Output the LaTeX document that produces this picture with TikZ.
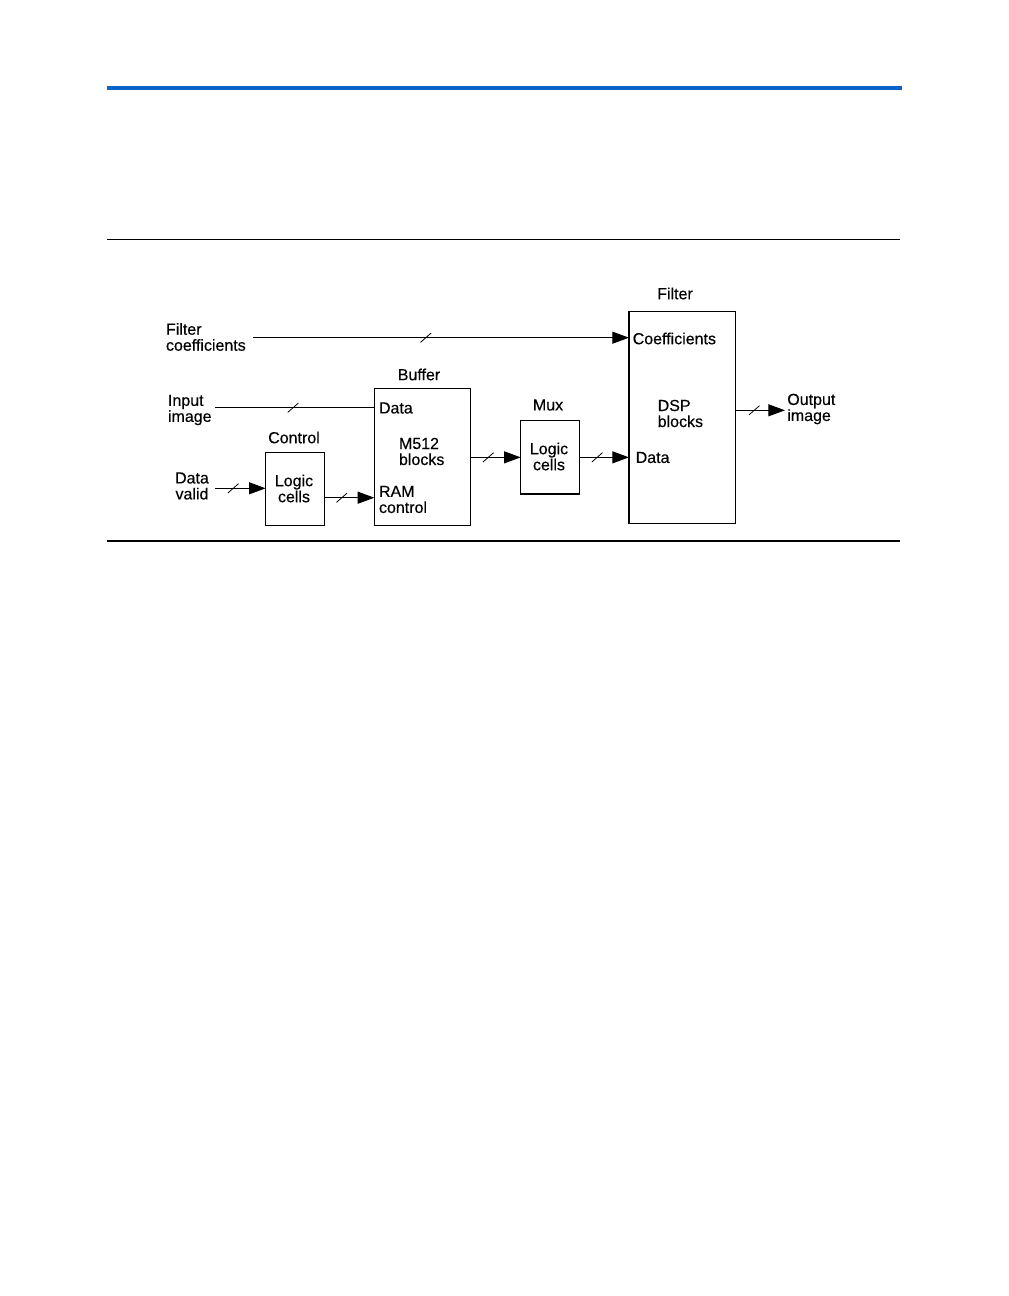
\documentclass[tikz,border=0pt]{standalone}
\usepackage{fontspec}
\setmainfont{Liberation Sans}[UprightFeatures={FakeBold=0.35}]
\usetikzlibrary{arrows.meta,decorations.markings}
\definecolor{rulebl}{RGB}{8,100,200}
\tikzset{
  txt/.style={inner sep=0pt,outer sep=0pt,font=\fontsize{12}{12}\selectfont},
  blk/.style={draw,line width=0.8pt,inner sep=0pt,outer sep=0pt},
  wire/.style={line width=0.8pt},
  arr/.style={wire,-{Triangle[length=12.5pt,width=9pt]}},
  bus/.style={postaction={decorate,decoration={markings,
     mark=at position #1 with {\draw[arrows=-,line width=0.6pt] (-4pt,-3.5pt) -- (4pt,3.5pt);}}}}
}
\begin{document}
\begin{tikzpicture}[x=0.75pt,y=-0.75pt]
\useasboundingbox (0,0) rectangle (1008,1296);
% page rules
\fill[rulebl] (107,86) rectangle (902,90);
\draw[line width=0.8pt] (107,239.5) -- (900,239.5);
\draw[line width=0.8pt] (107,541) -- (900,541);

% boxes
\node[blk,minimum width={95.7*0.75pt},minimum height={137*0.75pt}] (buf) at (422.2,456.8) {};
\node[blk,minimum width={58.6*0.75pt},minimum height={72.6*0.75pt}] (ctrl) at (295,489) {};
\node[blk,minimum width={58.6*0.75pt},minimum height={73.3*0.75pt}] (mux) at (550,457.35) {};
\node[blk,minimum width={106.3*0.75pt},minimum height={211.6*0.75pt}] (filt) at (682.15,417.5) {};

% titles
\node[txt] (tbuf) at (419,374.5) {Buffer};
\node[txt] (tctrl) at (294,437.5) {Control};
\node[txt] (tmux) at (548,405) {Mux};
\node[txt] (tfilt) at (675,293.5) {Filter};

% inner texts
\node[txt,anchor=west] (bdata) at (379,408) {Data};
\node[txt,anchor=west,align=left] (m512) at (399,451.5) {M512\\blocks};
\node[txt,anchor=west,align=left] (ram) at (379,499.5) {RAM\\control};
\node[txt,align=center] (clog) at (294,488.5) {Logic\\cells};
\node[txt,align=center] (mlog) at (549,456.5) {Logic\\cells};
\node[txt,anchor=west] (coef) at (632.7,338.5) {Coefficients};
\node[txt,anchor=west,align=left] (dsp) at (657.7,413.5) {DSP\\blocks};
\node[txt,anchor=west] (fdata) at (635.7,457.5) {Data};

% external labels
\node[txt,anchor=west,align=left] (fc) at (166,337) {Filter\\coefficients};
\node[txt,anchor=west,align=left] (ii) at (168,410) {Input\\image};
\node[txt,align=center] (dv) at (192,486) {Data\\valid};
\node[txt,anchor=west,align=left] (oi) at (787.3,409) {Output\\image};

% connectors
\coordinate (fcs) at ([xshift=7*0.75pt]fc.east |- 0,337.7);
\draw[arr,bus=0.46] (fcs) -- (filt.west |- fcs);
\coordinate (iis) at (215,407.7);
\draw[wire,bus=0.49] (iis) -- (buf.west |- iis);
\coordinate (dvs) at (215,488.3);
\draw[arr,bus=0.36] (dvs) -- (ctrl.west |- dvs);
\coordinate (cr) at (ctrl.east |- 0,497.7);
\draw[arr,bus=0.35] (cr) -- (buf.west |- cr);
\draw[arr,bus=0.36] (buf.east |- mux.west) -- (mux.west);
\draw[arr,bus=0.36] (mux.east) -- (filt.west |- mux.east);
\coordinate (oe) at (785,410.3);
\draw[arr,bus=0.38] (filt.east |- oe) -- (oe);
\end{tikzpicture}
\end{document}
